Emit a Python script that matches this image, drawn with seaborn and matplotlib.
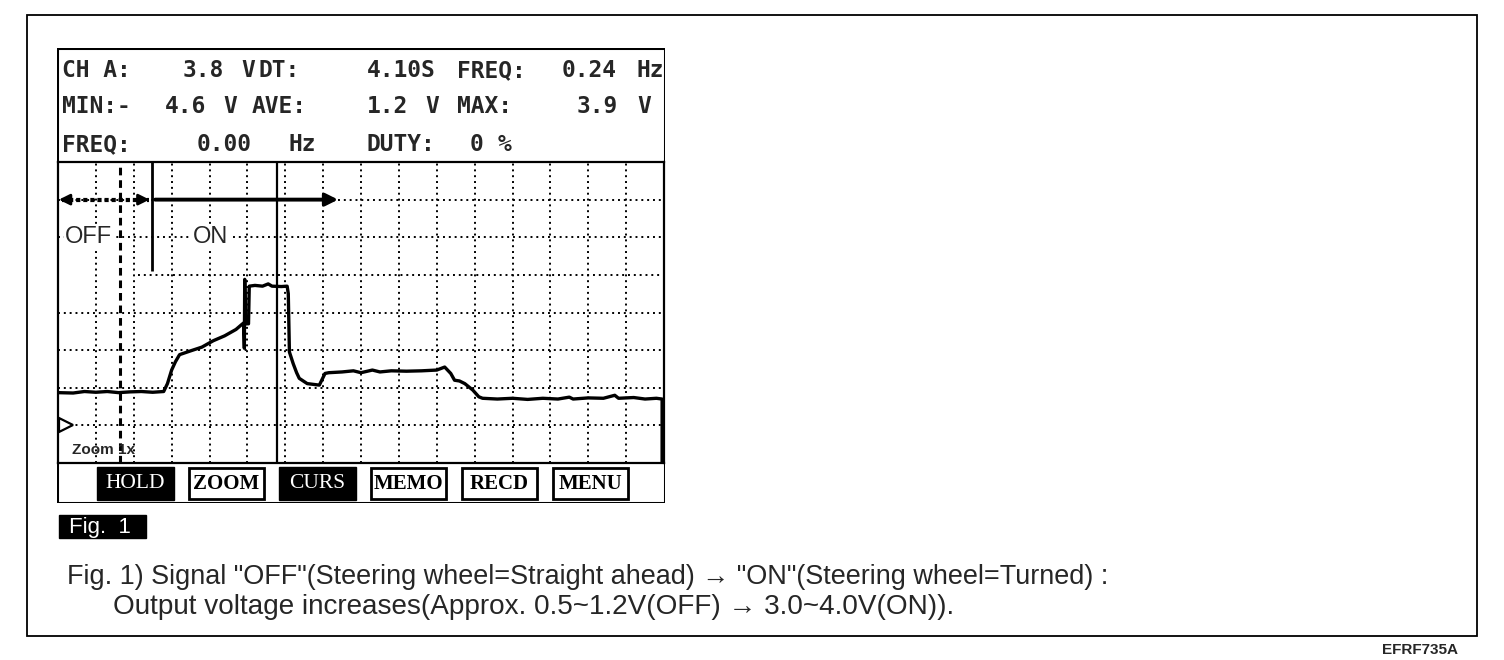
import matplotlib
matplotlib.use("Agg")
import matplotlib.pyplot as plt
from matplotlib import font_manager
from matplotlib.patches import Rectangle
import seaborn as sns

# scope trace (1 s/div, 1 V/div)
time_s = [0.00, 0.40, 0.70, 1.00, 1.30, 1.60, 1.90, 2.20, 2.50, 2.79,
          2.89, 3.00, 3.10, 3.21, 3.50, 3.80, 4.10, 4.40, 4.70, 4.85, 4.90,
          4.92, 4.93, 4.95, 5.03, 5.05, 5.20, 5.40, 5.55, 5.65, 5.90, 6.05,
          6.08, 6.11, 6.21, 6.30, 6.37, 6.58, 6.90, 7.05, 7.15, 7.50, 7.80,
          8.00, 8.30, 8.50, 8.80, 9.20, 9.60, 10.00, 10.21, 10.37, 10.47, 10.60,
          10.74, 10.95, 11.11, 11.21, 11.60, 12.00, 12.40, 12.80, 13.20, 13.50,
          13.60, 14.00, 14.40, 14.70, 14.80, 15.20, 15.50, 15.80, 15.95, 15.95]
volts = [0.87, 0.86, 0.90, 0.88, 0.90, 0.87, 0.89, 0.90, 0.88, 0.90,
         1.11, 1.47, 1.69, 1.88, 1.98, 2.08, 2.25, 2.38, 2.55, 2.68, 2.72,
         2.05, 3.88, 2.70, 2.70, 3.70, 3.72, 3.70, 3.76, 3.70, 3.69, 3.70,
         3.50, 1.95, 1.64, 1.40, 1.25, 1.11, 1.07, 1.38, 1.40, 1.42, 1.45,
         1.40, 1.47, 1.42, 1.45, 1.44, 1.45, 1.47, 1.55, 1.38, 1.20, 1.18,
         1.11, 0.94, 0.76, 0.72, 0.70, 0.72, 0.69, 0.72, 0.70, 0.75,
         0.70, 0.73, 0.72, 0.80, 0.72, 0.74, 0.70, 0.72, 0.70, -4.60]

cursor_a = 1.65      # dashed cursor
cursor_b = 5.77      # solid cursor (DT = 4.10 s)
switch_t = 2.49      # OFF -> ON boundary
switch_low = 4.1
on_arrow_end = 7.47
arrow_level = 6.0
label_level = 5.0
trigger_level = 0.0

header_text = [
    ["CH A:", "3.8", "V", "DT:", "4.10S", "FREQ:", "0.24", "Hz"],
    ["MIN:-", "4.6", "V", "AVE:", "1.2", "V", "MAX:", "3.9", "V"],
    ["FREQ:", "0.00", "Hz", "DUTY:", "0", "%"],
]
header_x = [
    [62, 183, 241, 259, 367, 457, 562, 637],
    [62, 165, 223, 252, 367, 425, 457, 577, 637],
    [62, 197, 288, 367, 470, 498],
]
header_y = [71, 107, 145]

buttons = ["HOLD", "ZOOM", "CURS", "MEMO", "RECD", "MENU"]
button_inverted = [True, False, True, False, False, False]

caption = [
    'Fig. 1) Signal "OFF"(Steering wheel=Straight ahead) \u2192 "ON"(Steering wheel=Turned) :',
    "Output voltage increases(Approx. 0.5~1.2V(OFF) \u2192 3.0~4.0V(ON)).",
]

W, H = 1504, 660
sns.set_style("white")
plt.rcParams["font.family"] = ["Liberation Sans", "DejaVu Sans"]

# narrow face for the caption if the system has it
names = {f.name for f in font_manager.fontManager.ttflist}
cap_family = ["Liberation Sans Narrow"] if "Liberation Sans Narrow" in names else ["Liberation Sans"]
cap_family = cap_family + ["DejaVu Sans"]

fig = plt.figure(figsize=(W / 100, H / 100), dpi=100)


def px_axes(x0, y0, x1, y1):
    a = fig.add_axes([x0 / W, 1 - y1 / H, (x1 - x0) / W, (y1 - y0) / H])
    a.set_xlim(x0, x1)
    a.set_ylim(y1, y0)
    a.axis("off")
    return a


page = px_axes(0, 0, W, H)
page.add_patch(Rectangle((27, 15), 1450, 621, fill=False, lw=1.3, ec="black"))

# Fig. 1 tag and caption
page.add_patch(Rectangle((59, 515), 87, 23, color="black"))
page.text(69, 527, "Fig.  1", color="white", fontsize=16, va="center")
cap1 = page.text(67, 577, caption[0], family=cap_family, fontsize=17, va="center")
cap2 = page.text(113, 607, caption[1], family=cap_family, fontsize=17, va="center")
page.text(1458, 650, "EFRF735A", fontsize=11, fontweight="bold", ha="right", va="center")

# scope screen
scr = px_axes(57, 48, 665, 503)
scr.add_patch(Rectangle((57, 48), 608, 455, fill=False, lw=2.2, ec="black"))
for row, xs, y in zip(header_text, header_x, header_y):
    for s, x in zip(row, xs):
        scr.text(x, y, s, family="DejaVu Sans Mono", fontweight="bold",
                 fontsize=16.5, va="center", clip_on=True)

for i, (name, inv) in enumerate(zip(buttons, button_inverted)):
    x0 = 97 + i * 91
    if inv:
        scr.add_patch(Rectangle((x0, 467), 77, 33, color="black"))
        scr.text(x0 + 38.5, 484, name, color="white", family="Liberation Serif",
                 fontsize=15.5, ha="center", va="center")
    else:
        scr.add_patch(Rectangle((x0 + 1, 468), 75, 31, fill=False, lw=2, ec="black"))
        scr.text(x0 + 38.5, 484, name, color="black", family="Liberation Serif",
                 fontweight="bold", fontsize=15, ha="center", va="center")

# waveform area
ax = fig.add_axes([58 / W, 1 - 463 / H, 606 / W, 301 / H])
ax.set_xlim(0, 16)
ax.set_ylim(-1, 7)
ax.set_xticks([])
ax.set_yticks([])
for sp in ax.spines.values():
    sp.set_color("black")
    sp.set_linewidth(1.6)

dots = (0, (1, 2))
ax.vlines(range(1, 16), -1, 7, colors="black", lw=1.4, linestyles=dots, zorder=1)
for v in range(0, 7):
    ax.hlines(v, 2.1 if v == 4 else 0, 16, colors="black", lw=1.4, linestyles=dots, zorder=1)

sns.lineplot(x=time_s, y=volts, ax=ax, color="black", lw=2.4,
             estimator=None, sort=False, zorder=4)

ax.axvline(cursor_a, color="black", lw=2.2, ls=(0, (2.5, 1.6)), zorder=3)
ax.axvline(cursor_b, color="black", lw=1.6, zorder=3)
ax.vlines(switch_t, switch_low, 7, colors="black", lw=2, zorder=3)

# OFF / ON arrows
ax.plot([0.1, switch_t - 0.1], [arrow_level, arrow_level], color="black",
        lw=3, ls=(0, (1, 0.7)), zorder=3)
head = dict(arrowstyle="-|>", color="black", lw=2, mutation_scale=16)
ax.annotate("", xy=(-0.05, arrow_level), xytext=(0.4, arrow_level),
            arrowprops=head, annotation_clip=False)
ax.annotate("", xy=(switch_t, arrow_level), xytext=(switch_t - 0.45, arrow_level),
            arrowprops=head, annotation_clip=False)
ax.annotate("", xy=(on_arrow_end, arrow_level), xytext=(switch_t, arrow_level),
            arrowprops=dict(arrowstyle="-|>", color="black", lw=2.8, mutation_scale=18))

box = dict(facecolor="white", edgecolor="none", pad=1)
ax.text(0.19, label_level, "OFF", fontsize=17, va="center", bbox=box, zorder=2)
ax.text(3.57, label_level, "ON", fontsize=17, va="center", bbox=box, zorder=2)

ax.plot([0.2], [trigger_level], marker=">", ms=10, mfc="white", mec="black",
        mew=1.6, clip_on=False, zorder=5)
ax.text(0.37, -0.66, "Zoom 1x", fontsize=11, fontweight="semibold", va="center", zorder=5)

# stretch caption lines to the widths they take in the picture
fig.canvas.draw()
for t, target in [(cap1, 1045), (cap2, 842)]:
    w = t.get_window_extent().width
    t.set_fontsize(t.get_fontsize() * target / w)

fig.savefig("out.png", dpi=100)
